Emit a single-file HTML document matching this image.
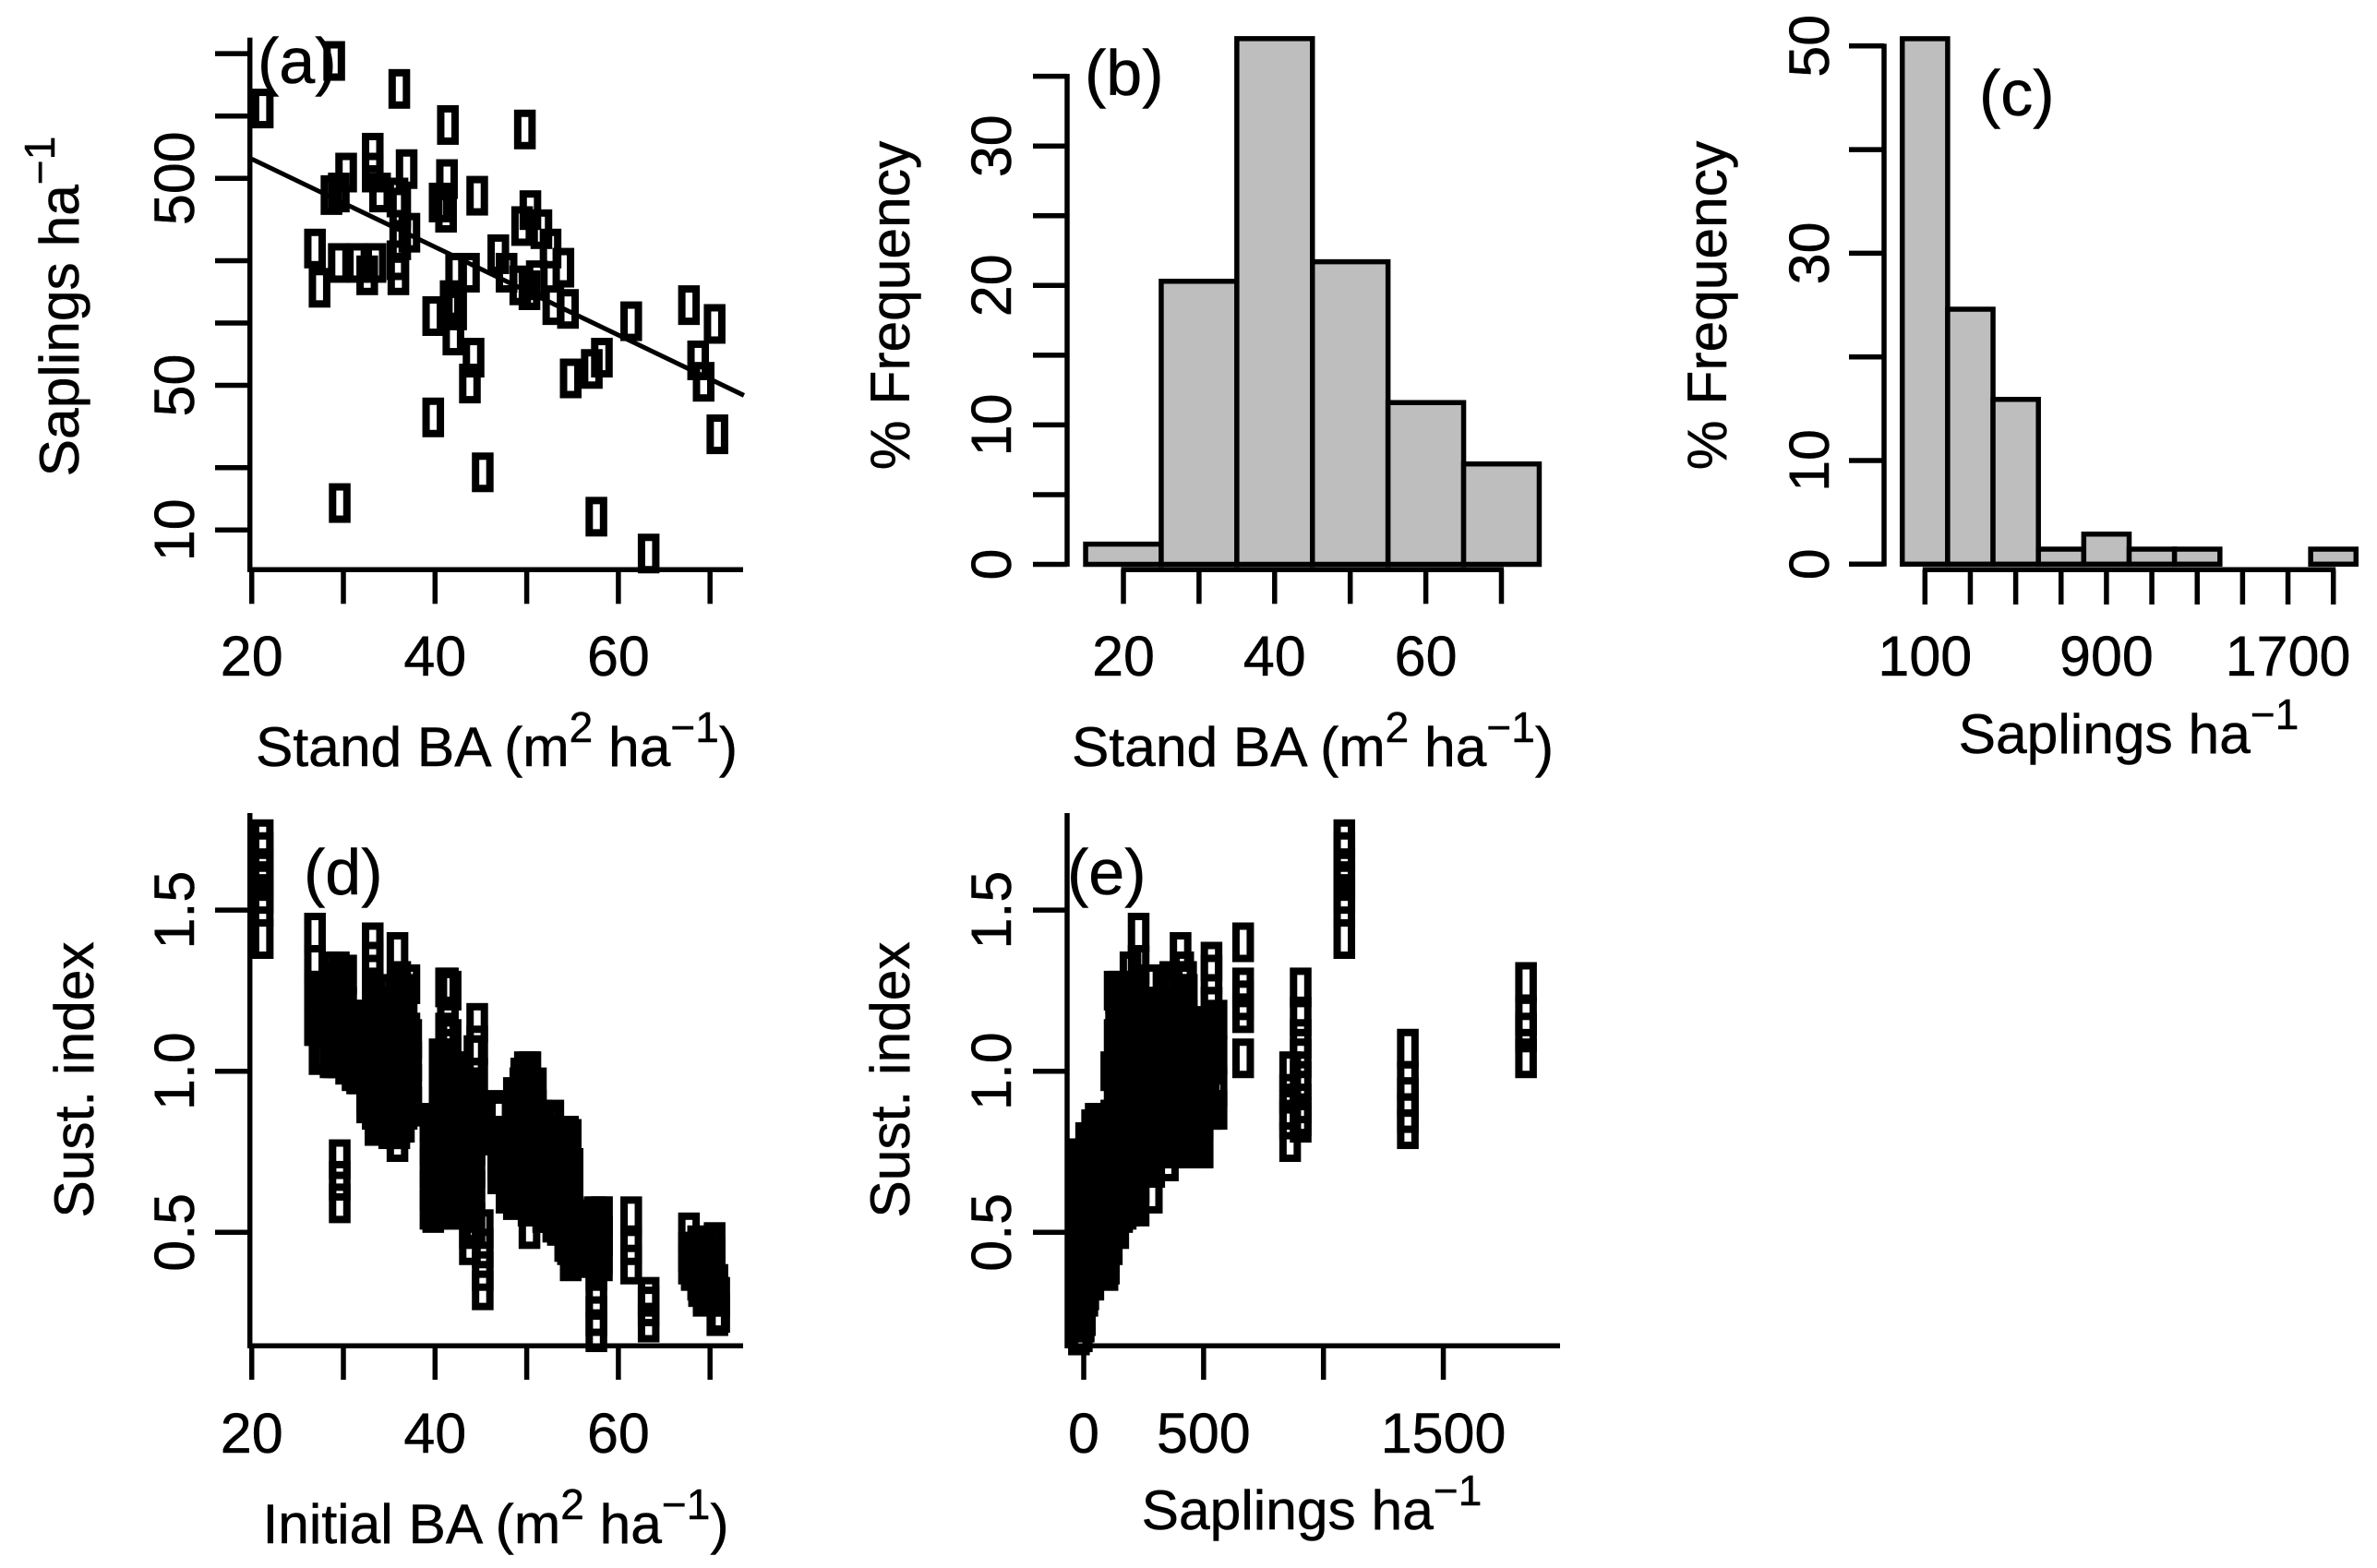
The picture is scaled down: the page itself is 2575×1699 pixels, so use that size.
<!DOCTYPE html>
<html lang="en">
<head>
<meta charset="utf-8">
<title>Sapling and stand basal area panels</title>
<style>
html,body{margin:0;padding:0;background:#fff;}
svg{display:block;}
text{font-family:"Liberation Sans",Arial,sans-serif;fill:#000;stroke:#000;stroke-width:0.5;}
</style>
</head>
<body>
<svg id="figure" xmlns="http://www.w3.org/2000/svg" width="2575" height="1699" viewBox="0 0 2575 1699">
  <rect width="2575" height="1699" fill="#fff"/>
  <g id="pa"></g>
  <g id="pb"></g>
  <g id="pc"></g>
  <g id="pd"></g>
  <g id="pe"></g>

  <text x="279" y="90" font-size="70">(a)</text>
  <text x="1175" y="103" font-size="70">(b)</text>
  <text x="2144" y="125" font-size="70">(c)</text>
  <text x="329" y="969" font-size="70">(d)</text>
  <text x="1156" y="969" font-size="70">(e)</text>

  <text x="538" y="830" font-size="60.5" text-anchor="middle">Stand BA (m<tspan dy="-26" font-size="46">2</tspan><tspan dy="26"> ha</tspan><tspan dy="-26" font-size="46">−1</tspan><tspan dy="26">)</tspan></text>
  <text transform="translate(85,332) rotate(-90)" font-size="60.5" text-anchor="middle">Saplings ha<tspan dy="-26" font-size="46">−1</tspan></text>
  <text x="1422" y="830" font-size="60.5" text-anchor="middle">Stand BA (m<tspan dy="-26" font-size="46">2</tspan><tspan dy="26"> ha</tspan><tspan dy="-26" font-size="46">−1</tspan><tspan dy="26">)</tspan></text>
  <text transform="translate(985,331) rotate(-90)" font-size="60.5" text-anchor="middle">% Frequency</text>
  <text x="2306" y="816" font-size="60.5" text-anchor="middle">Saplings ha<tspan dy="-26" font-size="46">−1</tspan></text>
  <text transform="translate(1870,331) rotate(-90)" font-size="60.5" text-anchor="middle">% Frequency</text>
  <text x="537" y="1672" font-size="60.5" text-anchor="middle">Initial BA (m<tspan dy="-26" font-size="46">2</tspan><tspan dy="26"> ha</tspan><tspan dy="-26" font-size="46">−1</tspan><tspan dy="26">)</tspan></text>
  <text transform="translate(101,1170) rotate(-90)" font-size="60.5" text-anchor="middle">Sust. index</text>
  <text x="1421" y="1657" font-size="60.5" text-anchor="middle">Saplings ha<tspan dy="-26" font-size="46">−1</tspan></text>
  <text transform="translate(985,1170) rotate(-90)" font-size="60.5" text-anchor="middle">Sust. index</text>
</svg>
<script>
// ---------- data ----------
const standBA = [21.2,29.0,36.1,41.4,49.8,30.3,33.2,33.2,36.9,28.7,29.5,41.3,44.6,40.5,41.2,34.0,35.9,36.2,50.4,49.5,51.6,52.6,26.9,27.4,29.5,31.5,32.6,33.5,36.0,35.9,37.2,36.2,46.9,47.8,43.7,42.3,41.7,42.3,42.0,39.8,44.2,43.8,39.8,45.2,29.6,57.6,63.3,49.3,50.3,51.1,54.0,52.9,54.5,54.8,57.1,58.2,61.4,67.7,70.5,68.7,69.3,70.8];
const standSaplings = [1087,1845,1352,905,861,533,665,533,554,415,427,496,412,382,341,427,404,361,351,294,284,229,229,148,195,195,170,195,170,201,273,251,215,175,175,175,129,115,87,108,68,51,35,19,13.5,11.6,7.7,152,144,161,185,122,117,54,60,68,102,122,99,66,52,29];
const panelESaplings = [1087,1845,1352,905,861,533,665,533,554,415,427,496,412,382,341,427,404,361,351,294,284,229,229,148,195,195,170,195,170,201,273,251,215,175,175,175,129,115,87,108,68,51,35,19,13.5,-10,0,152,144,161,185,122,117,54,60,68,102,105,99,40,15,5];
const standSust = [
[1.72,1.68,1.63,1.59,1.55,1.51,1.41],[1.277,1.17,1.12,1.04],[1.07,.97,.92,.87,.82],[1.26,1.17,1.1,1.04,.97,.9,.86,.84],[1.0,.93,.88,.85,.78],
[1.3,1.2,1.1,1.02],[1.40,1.26,1.22,1.18,1.04],[1.34,1.2,1.05,.88],[1.16,1.05,.95,.88],[1.31,1.2,1.1,1.05],
[1.28,1.18,1.08],[1.0,.92,.85,.76],[1.15,1.08,.98,.88,.8],[1.04,.95,.85,.76],[1.26,1.12,1.0,.88,.76],
[1.2,1.1,1.0,.9],[1.37,1.2,1.0,.85,.78],[1.28,1.12,.97,.84],[1.0,.92,.85,.78,.72],[.98,.88,.8,.7],
[.85,.78,.7,.62],[.84,.75,.65,.58],[1.43,1.33,1.25,1.14],[1.25,1.15,1.05],[1.31,1.22,1.12,1.04],
[1.16,1.08,.99],[1.15,1.05,.96,.9],[1.05,.95,.85,.83],[1.2,1.05,.95,.85],[1.25,1.1,.95,.82],
[1.27,1.12,1.0,.9],[1.2,1.08,.95,.84],[.88,.8,.72,.68],[.75,.7,.65],[.95,.85,.72,.6],
[.95,.82,.7,.57],[1.25,1.1,.95,.8,.62],[1.0,.85,.72,.6],[.84,.76,.68,.57],[.84,.76,.65,.6],
[.84,.75,.62,.53],[.65,.58,.51,.46],[.82,.74,.65,.56],[.51,.45,.38,.32],[.727,.66,.59],
[.55,.38,.30,.24,.19],[.30,.27,.22],[.95,.85,.75,.62],[1.0,.88,.75,.6,.51],[.85,.75,.65,.58],
[.8,.68,.58],[.85,.74,.62,.53],[.8,.7,.6,.46],[.79,.69,.55,.41],[.54,.5,.46,.42],
[.55,.49,.41],[.55,.46,.40],[.50,.44,.40],[.47,.42,.38],[.46,.41,.35],
[.455,.40,.35,.30],[.34,.30,.24]
];
const fillSaplings = [-33,-20,-8,10,30,50,75,100,135,160,190,220,250,280,310,340,370,400,430,460,490,520];
const fillSust = [
[.73,.66,.6,.54,.46,.38,.3,.22],
[.72,.66,.58,.5,.42,.34,.26,.18],
[.73,.67,.59,.51,.43,.35,.27,.19],
[.78,.7,.62,.54,.46,.38,.32],
[.78,.7,.62,.54,.46,.42,.36],
[.84,.78,.72,.64,.56,.48,.4],
[.84,.78,.72,.64,.56,.48,.4],
[.84,.8,.74,.66,.58,.5,.44],
[1.24,1.17,1.1,1.0,.93,.86,.79,.72,.65,.58],
[1.24,1.17,1.1,1.0,.93,.86,.79,.72,.65,.56],
[1.24,1.17,1.1,1.05,.98,.91,.84,.77,.7,.63,.58],
[1.24,1.17,1.1,1.05,.98,.91,.84,.77,.7,.64,.6],
[1.2,1.12,1.05,.98,.91,.84,.78,.72],
[1.2,1.12,1.05,.98,.91,.84,.78,.72],
[1.2,1.12,1.05,.98,.91,.84,.8,.76],
[1.2,1.12,1.05,.98,.91,.84,.8,.76],
[1.24,1.16,1.05,.98,.91,.84,.8,.76],
[1.24,1.16,1.05,.98,.91,.84,.8,.76],
[1.24,1.16,1.05,.98,.91,.84,.8,.76],
[1.14,1.08,1.05,.98,.91,.84,.8,.76],
[1.14,1.08,1.05,.98,.91,.84,.8,.76],
[1.14,1.05,.98,.93,.9]
];
const dFillBA = [27,27.8,28.6,29.4,30.2,31,31.8,32.6,33.4,34.2,35,35.8,36.6,37.4,39.5,40.3,41.1,41.9,42.7,43.5,44.3,47,47.8,48.6,49.4,50.2,51,51.8,52.6,53.4,54.2,55,55.8,56.6,57.4,58.2,68,68.8,69.6,70.4,71];
const dFillSust = [
[1.22,1.17,1.14],[1.2,1.13,1.06],[1.28,1.21,1.14,1.07,1.04],[1.28,1.21,1.14,1.07,1.04],[1.28,1.21,1.14,1.07],[1.15,1.08,1.0],
[1.16,1.09,1.02,.99],[1.16,1.09,1.02,.95,.93],[1.18,1.11,1.04,.97,.9],[1.2,1.13,1.06,.99,.92,.87],[1.24,1.17,1.1,1.03,.96,.89,.82],[1.24,1.17,1.1,1.03,.96,.89,.82],[1.24,1.17,1.1,1.03,.96,.89,.84],[1.1,1.03,.96,.89],
[.84,.77,.7,.63,.57],[.84,.77,.7,.63,.57],[1.0,.93,.86,.79,.72,.65,.58],[1.0,.93,.86,.79,.72,.65,.58],[.95,.88,.81,.74,.67,.6],[.95,.88,.81,.74,.67,.6],[1.05,.98,.91,.84,.77,.7,.63,.53],
[.86,.79,.72,.68],[.8,.73,.66,.62],[.92,.85,.78,.71,.64,.6],[.98,.91,.84,.77,.7,.63],[.98,.91,.84,.77,.7,.63,.58],[.95,.88,.81,.74,.67,.6],[.84,.77,.7,.63,.56],[.84,.77,.7,.63,.56],[.8,.73,.66,.59,.52],[.8,.73,.66,.59,.52,.47],[.7,.63,.56,.49,.43],
[.54,.48,.44],[.54,.48,.44],[.55,.49,.43],[.55,.49,.43],
[.44,.38],[.45,.39,.33],[.45,.38,.31],[.46,.39,.32],[.3,.25]
];
const fitLineBA = [20,73.7];
const fitLineSaplings = [620,44.7];

const histBABreaks = [15,25,35,45,55,65,75];
const histBAPercent = [1.45,20.3,37.7,21.7,11.6,7.2];
const histSapBreaks = [0,200,400,600,800,1000,1200,1400,1600,1800,2000];
const histSapPercent = [50.7,24.6,15.9,1.45,2.9,1.45,1.45,0,0,1.45];

const aXTicks = [20,30,40,50,60,70];
const aXLabels = ['20','','40','','60',''];
const aYTicks = [10,20,50,100,200,500,1000,2000];
const aYLabels = ['10','','50','','','500','',''];
const bXTicks = [20,30,40,50,60,70];
const bXLabels = ['20','','40','','60',''];
const bYTicks = [0,5,10,15,20,25,30,35];
const bYLabels = ['0','','10','','20','','30',''];
const cXTicks = [100,300,500,700,900,1100,1300,1500,1700,1900];
const cXLabels = ['100','','','','900','','','','1700',''];
const cYTicks = [0,10,20,30,40,50];
const cYLabels = ['0','10','','30','','50'];
const dXTicks = [20,30,40,50,60,70];
const dXLabels = ['20','','40','','60',''];
const sustTicks = [0.5,1.0,1.5];
const sustLabels = ['0.5','1.0','1.5'];
const eXTicks = [0,500,1000,1500];
const eXLabels = ['0','500','','1500'];

// ---------- axis functions ----------
const aX = v => 272.7 + (v - 20) * 9.93;
const aY = v => 574.3 - 224.3 * Math.log10(v / 10);
const bX = v => 1217 + (v - 20) * 8.19;
const bY = v => 611.5 - v * 15.11;
const cX = v => 2085.3 + (v - 100) * 0.24578;
const cY = v => 611.3 - v * 11.23;
const dY = v => 1160.7 - (v - 1) * 349.2;
const eX = v => 1174 + v * 0.2597;

const NS = 'http://www.w3.org/2000/svg';
function make(tag, parent, attrs){
  const el = document.createElementNS(NS, tag);
  for (const k in attrs) el.setAttribute(k, attrs[k]);
  parent.appendChild(el);
  return el;
}
function lineEl(parent, x1, y1, x2, y2, w){
  return make('line', parent, {x1:x1, y1:y1, x2:x2, y2:y2, stroke:'#000', 'stroke-width':w});
}
function axisBottom(parent, ticks, labels, xf, axisY, tickEnd, labelY, x0, x1){
  const base = lineEl(parent, x0, axisY, x1, axisY, 5.5);
  
  
  ticks.forEach((t, i) => {
    const tick = lineEl(parent, xf(t), axisY, xf(t), tickEnd, 5.5);
    
    
    if (labels[i]) {
      const lab = make('text', parent, {x:xf(t), y:labelY, 'font-size':61, 'text-anchor':'middle'});
      lab.textContent = labels[i];
      
      
    }
  });
}
function axisLeft(parent, ticks, labels, yf, axisX, tickEnd, labelX, y0, y1){
  const base = lineEl(parent, axisX, y0, axisX, y1, 5.5);
  
  
  ticks.forEach((t, i) => {
    const tick = lineEl(parent, axisX, yf(t), tickEnd, yf(t), 5.5);
    
    
    if (labels[i]) {
      const lab = make('text', parent, {transform:'translate(' + labelX + ',' + yf(t) + ') rotate(-90)', 'font-size':61, 'text-anchor':'middle'});
      lab.textContent = labels[i];
      
      
    }
  });
}
const MW = 15.5, MH = 35;
function marker(parent, cx, cy){
  return make('rect', parent, {x:cx - MW/2, y:cy - MH/2, width:MW, height:MH, fill:'none', stroke:'#000', 'stroke-width':8});
}
function bars(parent, breaks, vals, xf, yf){
  vals.forEach((v, i) => {
    const x0 = xf(breaks[i]), x1 = xf(breaks[i+1]), y0 = yf(0), y1 = yf(v);
    const b = make('rect', parent, {x:x0, y:y1, width:x1-x0, height:y0-y1, fill:'#bebebe', stroke:'#000', 'stroke-width':5.5});
    
    
  });
}

// ---------- panel a ----------
const pa = document.getElementById('pa');
axisLeft(pa, aYTicks, aYLabels, aY, 270.7, 233, 210, 40.7, 619.8);
axisBottom(pa, aXTicks, aXLabels, aX, 617.3, 654.3, 732, 268.2, 805);
const fit = lineEl(pa, aX(fitLineBA[0]), aY(fitLineSaplings[0]), aX(fitLineBA[1]), aY(fitLineSaplings[1]), 5);


standBA.forEach((ba, i) => {
  const p = marker(pa, aX(ba), aY(standSaplings[i]));
  
  
});

// ---------- panel b ----------
const pb = document.getElementById('pb');
axisLeft(pb, bYTicks, bYLabels, bY, 1156, 1119, 1095, 80, 614);
axisBottom(pb, bXTicks, bXLabels, bX, 617.3, 654.3, 732, bX(20)-2.5, bX(70)+2.5);
bars(pb, histBABreaks, histBAPercent, bX, bY);

// ---------- panel c ----------
const pc = document.getElementById('pc');
axisLeft(pc, cYTicks, cYLabels, cY, 2041, 2003, 1981, 47.4, 613.8);
axisBottom(pc, cXTicks, cXLabels, cX, 617.3, 655, 732, cX(100)-2.5, cX(1900)+2.5);
bars(pc, histSapBreaks, histSapPercent, cX, cY);

// ---------- panel d ----------
const pd = document.getElementById('pd');
axisLeft(pd, sustTicks, sustLabels, dY, 270.7, 233, 210, 881, 1460.8);
axisBottom(pd, dXTicks, dXLabels, aX, 1458.3, 1495, 1574, 268.2, 805);
dFillBA.forEach((ba, i) => {
  dFillSust[i].forEach(v => {
    const p = marker(pd, aX(ba), dY(v));
    
    
  });
});
standBA.forEach((ba, i) => {
  standSust[i].forEach(v => {
    const p = marker(pd, aX(ba), dY(v));
    
    
  });
});

// ---------- panel e ----------
const pe = document.getElementById('pe');
axisLeft(pe, sustTicks, sustLabels, dY, 1156, 1119, 1095, 881, 1460.8);
axisBottom(pe, eXTicks, eXLabels, eX, 1458.3, 1495, 1574, 1153.5, 1690);
fillSaplings.forEach((s, i) => {
  fillSust[i].forEach(v => {
    const p = marker(pe, eX(s), dY(v));
    
    
  });
});
panelESaplings.forEach((s, i) => {
  standSust[i].forEach(v => {
    const p = marker(pe, eX(s), dY(v));
    
    
  });
});
</script>
</body>
</html>
